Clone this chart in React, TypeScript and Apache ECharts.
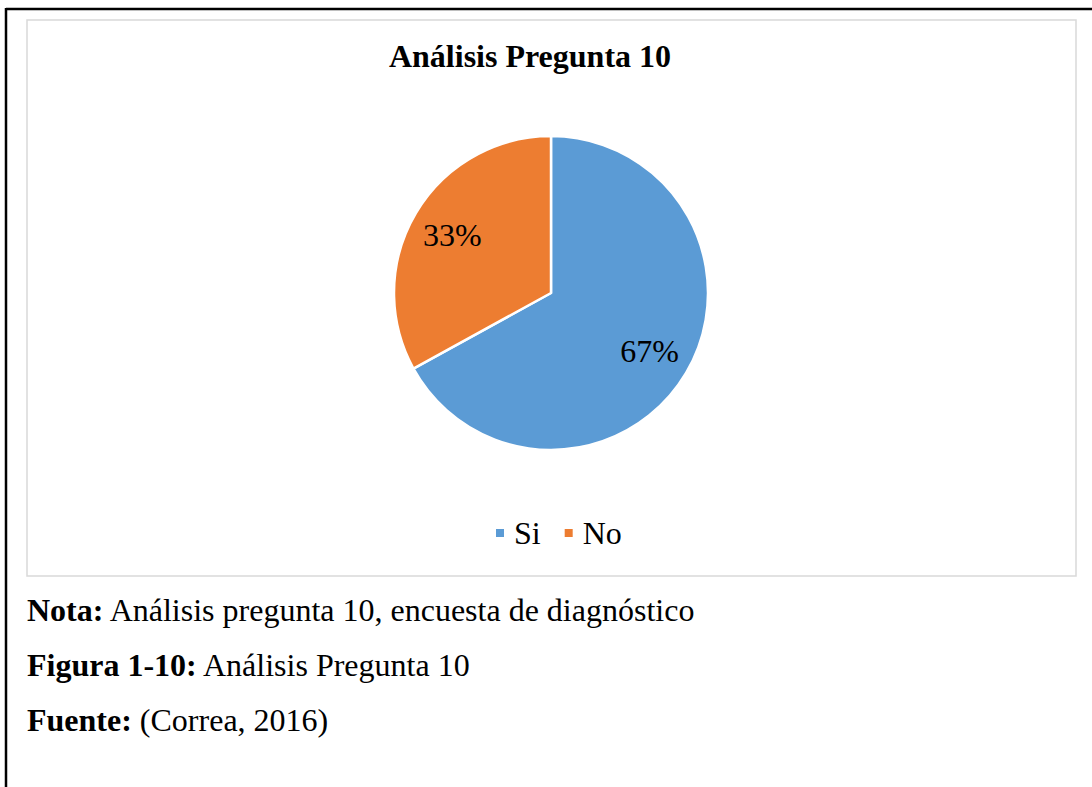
import React, { useEffect, useRef } from "react";
import * as echarts from "echarts";

const title = "Análisis Pregunta 10";
const categories = ["Si", "No"];
const values = [67, 33];
const colors = ["#5B9BD5", "#ED7D31"];
const notes = [
  { bold: "Nota:", text: " Análisis pregunta 10, encuesta de diagnóstico" },
  { bold: "Figura 1-10:", text: " Análisis Pregunta 10" },
  { bold: "Fuente:", text: " (Correa, 2016)" },
];

const FONT = "'Liberation Serif', 'Times New Roman', serif";
const FS = 32;

export default function App() {
  const ref = useRef<HTMLDivElement>(null);
  useEffect(() => {
    document.body.style.margin = "0";
    const chart = echarts.init(ref.current!, undefined, { renderer: "svg" });
    const data = categories.map((c, i) => ({ name: c, value: values[i], itemStyle: { color: colors[i] } }));
    chart.setOption({
      animation: false,
      backgroundColor: "#ffffff",
      title: {
        text: title,
        left: 525,
        top: 35,
        textAlign: "center",
        textStyle: { fontFamily: FONT, fontSize: FS, fontWeight: "bold", color: "#000" },
      },
      legend: {
        data: categories,
        left: 489,
        top: 512,
        itemWidth: 10,
        itemHeight: 10,
        itemGap: 22,
        icon: "rect",
        textStyle: { fontFamily: FONT, fontSize: FS, color: "#000", padding: [0, 0, 0, 4] },
      },
      series: [
        {
          type: "pie",
          center: [551, 293],
          radius: [0, 157],
          startAngle: 90,
          clockwise: true,
          label: { show: false },
          labelLine: { show: false },
          itemStyle: { borderColor: "#fff", borderWidth: 2.5 },
          data,
          silent: true,
        },
        {
          type: "pie",
          center: [551, 293],
          radius: [66, 157],
          startAngle: 90,
          clockwise: true,
          silent: true,
          label: {
            show: true,
            position: "inside",
            formatter: "{d}%",
            fontFamily: FONT,
            fontSize: FS,
            color: "#000",
          },
          labelLine: { show: false },
          itemStyle: { color: "rgba(0,0,0,0)", borderWidth: 0 },
          emphasis: { disabled: true },
          data: categories.map((c, i) => ({ name: c, value: values[i], itemStyle: { color: "rgba(0,0,0,0)" } })),
        },
      ],
      graphic: [
        { type: "line", shape: { x1: 6, y1: 9, x2: 1092, y2: 9 }, style: { stroke: "#000", lineWidth: 2.5 } },
        { type: "line", shape: { x1: 6, y1: 8, x2: 6, y2: 787 }, style: { stroke: "#000", lineWidth: 2.5 } },
        {
          type: "rect",
          shape: { x: 27, y: 20, width: 1049, height: 556 },
          style: { fill: "none", stroke: "#d9d9d9", lineWidth: 1.5 },
        },
        ...notes.map((n, i) => ({
          type: "text",
          left: 27,
          top: 594 + i * 55,
          style: {
            text: `{b|${n.bold}}{r|${n.text}}`,
            rich: {
              b: { fontFamily: FONT, fontSize: FS, fontWeight: "bold", fill: "#000" },
              r: { fontFamily: FONT, fontSize: FS, fill: "#000" },
            },
          },
        })),
      ],
    });
    return () => chart.dispose();
  }, []);
  return <div ref={ref} style={{ position: "absolute", left: 0, top: 0, width: 1092, height: 787 }} />;
}
